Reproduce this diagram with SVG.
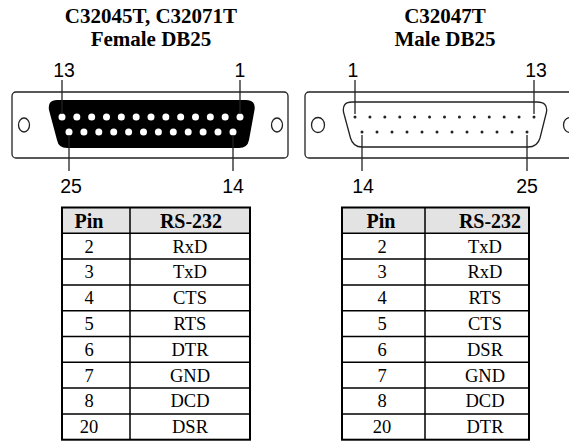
<svg xmlns="http://www.w3.org/2000/svg" width="569" height="442" viewBox="0 0 569 442">
<style>
.title{font-family:"Liberation Serif","Times New Roman",serif;font-weight:bold;font-size:21px;text-anchor:middle;fill:#000}
.num{font-family:"Liberation Sans",Arial,sans-serif;font-size:19.5px;text-anchor:middle;fill:#000}
.plate{fill:#fff;stroke:#222;stroke-width:1.3}
.hole{fill:#fff;stroke:#222;stroke-width:1.3}
.lead{stroke:#222;stroke-width:1.3}
.th{font-family:"Liberation Serif","Times New Roman",serif;font-weight:bold;font-size:20px;text-anchor:middle;fill:#000}
.td{font-family:"Liberation Serif","Times New Roman",serif;font-size:18.5px;text-anchor:middle;fill:#000}
.grid{stroke:#000;stroke-width:1.5;fill:none}
.outer{stroke:#000;stroke-width:2;fill:none}
.hdr{fill:#e3e3e3}
</style>
<defs>
<circle id="fp" r="3.5" fill="#fff"/>
<circle id="mp" r="1.5" fill="#222"/>
</defs>

<g id="female-title">
<text class="title" x="151" y="23">C32045T, C32071T</text>
<text class="title" x="151" y="46">Female DB25</text>
</g>
<g id="male-title">
<text class="title" x="445" y="23">C32047T</text>
<text class="title" x="445" y="46">Male DB25</text>
</g>

<g id="female-connector">
<rect class="plate" x="12" y="92" width="276" height="66" rx="4"/>
<ellipse class="hole" cx="24" cy="125" rx="5.5" ry="7"/>
<ellipse class="hole" cx="277" cy="125" rx="5.5" ry="7"/>
<path d="M57,100 L246,100 Q256,100 254.5,110 L249,140 Q247.5,148 239,148 L67,148 Q58.5,148 57,140 L49,110 Q47.5,100 57,100 Z" fill="#000"/>
<g>
<use href="#fp" x="62" y="117"/><use href="#fp" x="76.83" y="117"/><use href="#fp" x="91.67" y="117"/><use href="#fp" x="106.5" y="117"/><use href="#fp" x="121.33" y="117"/><use href="#fp" x="136.17" y="117"/><use href="#fp" x="151" y="117"/><use href="#fp" x="165.83" y="117"/><use href="#fp" x="180.67" y="117"/><use href="#fp" x="195.5" y="117"/><use href="#fp" x="210.33" y="117"/><use href="#fp" x="225.17" y="117"/><use href="#fp" x="240" y="117"/>
<use href="#fp" x="69" y="132"/><use href="#fp" x="83.9" y="132"/><use href="#fp" x="98.8" y="132"/><use href="#fp" x="113.7" y="132"/><use href="#fp" x="128.6" y="132"/><use href="#fp" x="143.5" y="132"/><use href="#fp" x="158.4" y="132"/><use href="#fp" x="173.3" y="132"/><use href="#fp" x="188.2" y="132"/><use href="#fp" x="203.1" y="132"/><use href="#fp" x="218" y="132"/><use href="#fp" x="233" y="132"/>
</g>
<text class="num" x="64" y="77">13</text>
<text class="num" x="240" y="77">1</text>
<text class="num" x="71" y="193">25</text>
<text class="num" x="233" y="193">14</text>
</g>

<g id="male-connector">
<rect class="plate" x="305" y="92" width="285" height="66" rx="4"/>
<ellipse class="hole" cx="318" cy="125" rx="6.5" ry="7.5"/>
<ellipse class="hole" cx="570" cy="125" rx="6.5" ry="7.5"/>
<path d="M352,102 L537,102 Q548,102 546.5,112 L540,138 Q537.5,147 528,147 L362,147 Q353,147 350.5,138 L343.5,112 Q342,102 352,102 Z" fill="#fff" stroke="#222" stroke-width="1.3"/>
<g>
<use href="#mp" x="355" y="117"/><use href="#mp" x="369.92" y="117"/><use href="#mp" x="384.83" y="117"/><use href="#mp" x="399.75" y="117"/><use href="#mp" x="414.67" y="117"/><use href="#mp" x="429.58" y="117"/><use href="#mp" x="444.5" y="117"/><use href="#mp" x="459.42" y="117"/><use href="#mp" x="474.33" y="117"/><use href="#mp" x="489.25" y="117"/><use href="#mp" x="504.17" y="117"/><use href="#mp" x="519.08" y="117"/><use href="#mp" x="534" y="117"/>
<use href="#mp" x="362" y="132"/><use href="#mp" x="377" y="132"/><use href="#mp" x="392" y="132"/><use href="#mp" x="407" y="132"/><use href="#mp" x="422" y="132"/><use href="#mp" x="437" y="132"/><use href="#mp" x="452" y="132"/><use href="#mp" x="467" y="132"/><use href="#mp" x="482" y="132"/><use href="#mp" x="497" y="132"/><use href="#mp" x="512" y="132"/><use href="#mp" x="527" y="132"/>
</g>
<text class="num" x="353" y="77">1</text>
<text class="num" x="536" y="77">13</text>
<text class="num" x="363" y="193">14</text>
<text class="num" x="527" y="193">25</text>
</g>

<g id="connectors">
<line class="lead" x1="62" y1="80" x2="62" y2="114"/>
<line class="lead" x1="240" y1="80" x2="240" y2="114"/>
<line class="lead" x1="69" y1="135" x2="69" y2="171"/>
<line class="lead" x1="233" y1="135" x2="233" y2="171"/>
<line class="lead" x1="355" y1="80" x2="355" y2="114"/>
<line class="lead" x1="534" y1="80" x2="534" y2="114"/>
<line class="lead" x1="362" y1="135" x2="362" y2="171"/>
<line class="lead" x1="527" y1="135" x2="527" y2="171"/>
</g>

<g id="table-female">
<rect class="hdr" x="62" y="207.5" width="188" height="25.8"/>
<path class="grid" d="M62,233.3H250M62,259.1H250M62,284.9H250M62,310.7H250M62,336.5H250M62,362.3H250M62,388.1H250M62,413.9H250M130,207.5V439.7"/>
<rect class="outer" x="62" y="207.5" width="188" height="232.2"/>
<text class="th" x="89" y="227.5">Pin</text><text class="th" x="191" y="227.5">RS-232</text>
<text class="td" x="89" y="252.5">2</text><text class="td" x="190" y="252.5">RxD</text>
<text class="td" x="89" y="278.3">3</text><text class="td" x="190" y="278.3">TxD</text>
<text class="td" x="89" y="304.1">4</text><text class="td" x="190" y="304.1">CTS</text>
<text class="td" x="89" y="329.9">5</text><text class="td" x="190" y="329.9">RTS</text>
<text class="td" x="89" y="355.7">6</text><text class="td" x="190" y="355.7">DTR</text>
<text class="td" x="89" y="381.5">7</text><text class="td" x="190" y="381.5">GND</text>
<text class="td" x="89" y="407.3">8</text><text class="td" x="190" y="407.3">DCD</text>
<text class="td" x="89" y="433.1">20</text><text class="td" x="190" y="433.1">DSR</text>
</g>

<g id="table-male">
<rect class="hdr" x="342" y="207.5" width="187" height="25.8"/>
<path class="grid" d="M342,233.3H529M342,259.1H529M342,284.9H529M342,310.7H529M342,336.5H529M342,362.3H529M342,388.1H529M342,413.9H529M425,207.5V439.7"/>
<rect class="outer" x="342" y="207.5" width="187" height="232.2"/>
<text class="th" x="381" y="227.5">Pin</text><text class="th" x="490" y="227.5">RS-232</text>
<text class="td" x="382" y="252.5">2</text><text class="td" x="485" y="252.5">TxD</text>
<text class="td" x="382" y="278.3">3</text><text class="td" x="485" y="278.3">RxD</text>
<text class="td" x="382" y="304.1">4</text><text class="td" x="485" y="304.1">RTS</text>
<text class="td" x="382" y="329.9">5</text><text class="td" x="485" y="329.9">CTS</text>
<text class="td" x="382" y="355.7">6</text><text class="td" x="485" y="355.7">DSR</text>
<text class="td" x="382" y="381.5">7</text><text class="td" x="485" y="381.5">GND</text>
<text class="td" x="382" y="407.3">8</text><text class="td" x="485" y="407.3">DCD</text>
<text class="td" x="382" y="433.1">20</text><text class="td" x="485" y="433.1">DTR</text>
</g>
</svg>
